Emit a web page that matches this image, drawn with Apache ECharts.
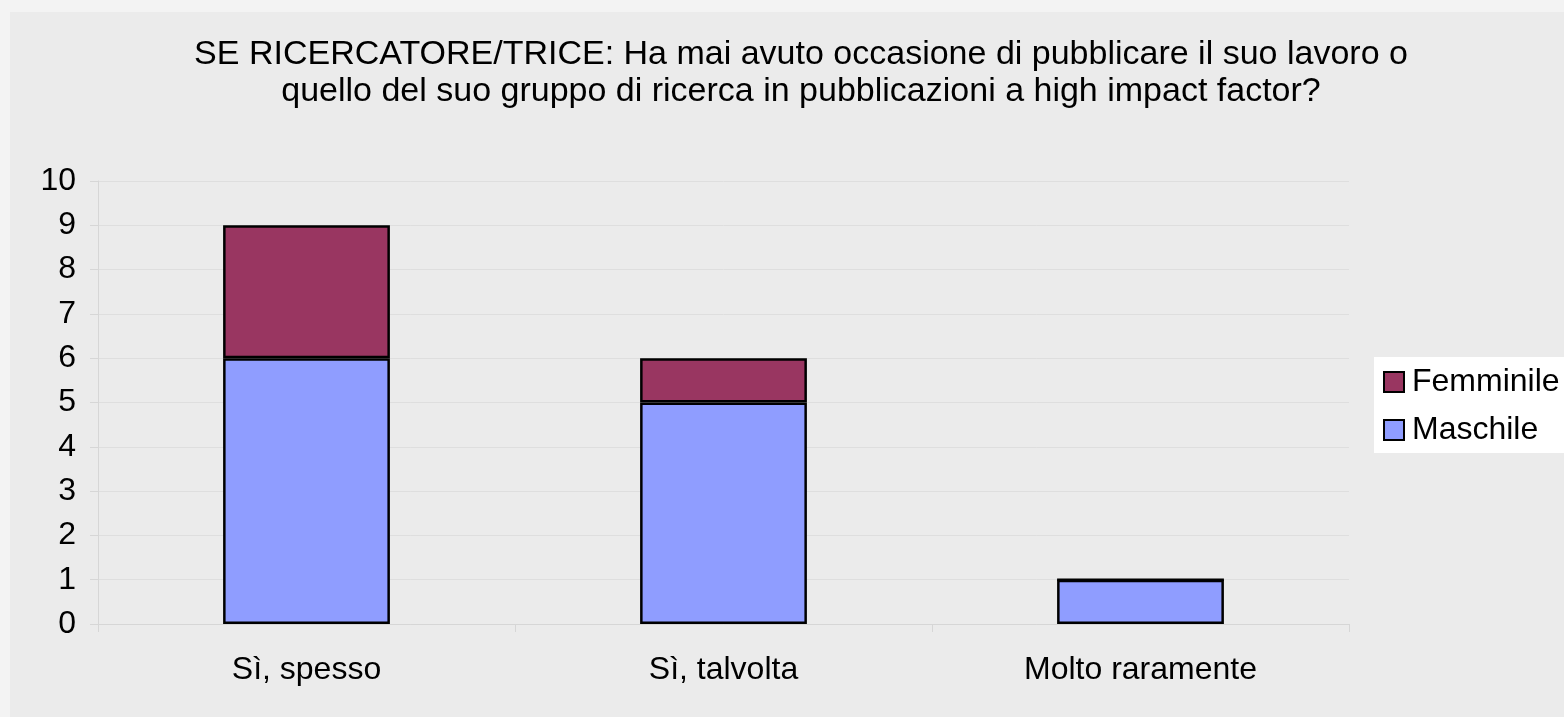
<!DOCTYPE html>
<html>
<head>
<meta charset="utf-8">
<title>Pubblicazioni high impact factor</title>
<script src="https://cdn.jsdelivr.net/npm/echarts@6/dist/echarts.min.js"></script>
<style>
  html, body { margin: 0; padding: 0; background: #f3f3f3; }
  #main { width: 1564px; height: 717px; }
</style>
</head>
<body>
<div id="main"></div>
<script>
// dati
var categorie = ['Sì, spesso', 'Sì, talvolta', 'Molto raramente'];
var maschile = [6, 5, 1];
var femminile = [3, 1, 0];
var tickY = [0, 1, 2, 3, 4, 5, 6, 7, 8, 9, 10];

var font = '"Liberation Sans", Arial, sans-serif';

var chart = echarts.init(document.getElementById('main'));

var option = {
    backgroundColor: '#f3f3f3',
    animation: false,
    graphic: [{
        type: 'rect',
        shape: { x: 10, y: 12, width: 1554, height: 705 },
        style: { fill: '#ebebeb' },
        z: -10
    }],
    title: {
        text: 'SE RICERCATORE/TRICE: Ha mai avuto occasione di pubblicare il suo lavoro o\nquello del suo gruppo di ricerca in pubblicazioni a high impact factor?',
        left: 796,
        top: 31,
        textAlign: 'center',
        textStyle: {
            fontFamily: font,
            fontSize: 34,
            fontWeight: 'normal',
            color: '#000',
            lineHeight: 37
        }
    },
    legend: {
        orient: 'vertical',
        left: 1374,
        top: 357,
        width: 190,
        backgroundColor: '#fff',
        padding: [9, 20, 7, 9],
        itemGap: 16,
        itemWidth: 20,
        itemHeight: 20,
        icon: 'rect',
        data: ['Femminile', 'Maschile'],
        textStyle: {
            fontFamily: font,
            fontSize: 32,
            color: '#000',
            padding: [0, 0, 0, 3]
        }
    },
    grid: {
        left: 98,
        right: 215,
        top: 181,
        bottom: 93
    },
    xAxis: {
        type: 'category',
        data: categorie,
        axisLine: { lineStyle: { color: '#d6d6d6', width: 1 } },
        axisTick: { show: true, length: 8, lineStyle: { color: '#d6d6d6' } },
        axisLabel: {
            fontFamily: font,
            fontSize: 32,
            color: '#000',
            margin: 30
        }
    },
    yAxis: {
        type: 'value',
        min: tickY[0],
        max: tickY[tickY.length - 1],
        interval: 1,
        axisLine: { show: true, lineStyle: { color: '#d6d6d6', width: 1 } },
        axisTick: { show: true, length: 8, lineStyle: { color: '#d6d6d6' } },
        splitLine: { lineStyle: { color: '#dedede', width: 1 } },
        axisLabel: {
            fontFamily: font,
            fontSize: 32,
            color: '#000',
            margin: 22
        }
    },
    series: [
        {
            name: 'Maschile',
            type: 'bar',
            stack: 'tot',
            barWidth: '40%',
            data: maschile,
            itemStyle: { color: '#8f9dff', borderColor: '#000', borderWidth: 2.5 }
        },
        {
            name: 'Femminile',
            type: 'bar',
            stack: 'tot',
            barWidth: '40%',
            data: femminile,
            itemStyle: { color: '#993661', borderColor: '#000', borderWidth: 2.5 }
        }
    ]
};

chart.setOption(option);
</script>
</body>
</html>
